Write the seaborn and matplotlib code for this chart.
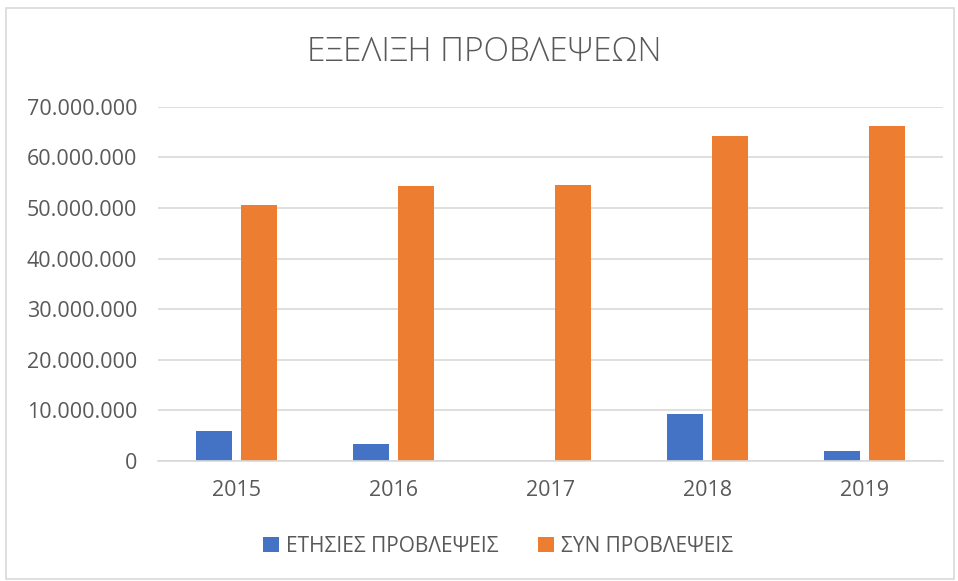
import matplotlib
matplotlib.use("Agg")
import matplotlib.pyplot as plt
import matplotlib.ticker as mticker
import seaborn as sns
import pandas as pd

years = ["2015", "2016", "2017", "2018", "2019"]
etisies = [5880000, 3460000, 0, 9350000, 2000000]
syn = [50700000, 54300000, 54500000, 64300000, 66300000]
series_names = ["ΕΤΗΣΙΕΣ ΠΡΟΒΛΕΨΕΙΣ", "ΣΥΝ ΠΡΟΒΛΕΨΕΙΣ"]
colors = ["#4472C4", "#ED7D31"]

df = pd.DataFrame({
    "year": years * 2,
    "series": [series_names[0]] * len(years) + [series_names[1]] * len(years),
    "value": etisies + syn,
})

sns.set_style("white")
plt.rcParams["font.family"] = ["Open Sans", "DejaVu Sans"]

fig = plt.figure(figsize=(9.58, 5.81), dpi=100)
ax = fig.add_axes([0.165, 0.2065, 0.819, 0.6095])

sns.barplot(data=df, x="year", y="value", hue="series", hue_order=series_names,
            palette=colors, width=0.573, gap=0.2, ax=ax, saturation=1,
            linewidth=0, legend=True)

ax.set_ylim(0, 70000000)
ax.yaxis.set_major_locator(mticker.MultipleLocator(10000000))
ax.yaxis.set_major_formatter(mticker.FuncFormatter(lambda v, p: f"{int(v):,}".replace(",", ".")))
ax.grid(axis="y", color="#d9d9d9", linewidth=1.2)
ax.set_axisbelow(True)
for s in ["top", "right", "left"]:
    ax.spines[s].set_visible(False)
ax.spines["bottom"].set_color("#d9d9d9")
ax.spines["bottom"].set_linewidth(1.2)
ax.tick_params(axis="both", length=0, labelsize=15.5, colors="#595959")
ax.tick_params(axis="y", pad=15)
ax.tick_params(axis="x", pad=14)
ax.set_xlabel("")
ax.set_ylabel("")

handles, labels = ax.get_legend_handles_labels()
ax.get_legend().remove()
leg = fig.legend(handles, labels, loc="center", bbox_to_anchor=(0.52, 0.06), ncol=2,
                 frameon=False, fontsize=15, handlelength=0.75, handleheight=0.75,
                 columnspacing=1.9, handletextpad=0.35)
for t in leg.get_texts():
    t.set_color("#595959")

fig.text(0.505, 0.91, "ΕΞΕΛΙΞΗ ΠΡΟΒΛΕΨΕΩΝ", ha="center", va="center",
         fontsize=24, color="#595959", fontweight="light")

fig.patches.append(plt.Rectangle((0.006, 0.004), 0.99, 0.982, transform=fig.transFigure,
                                 fill=False, edgecolor="#d9d9d9", linewidth=1.2))

fig.savefig("out.png", dpi=100)
